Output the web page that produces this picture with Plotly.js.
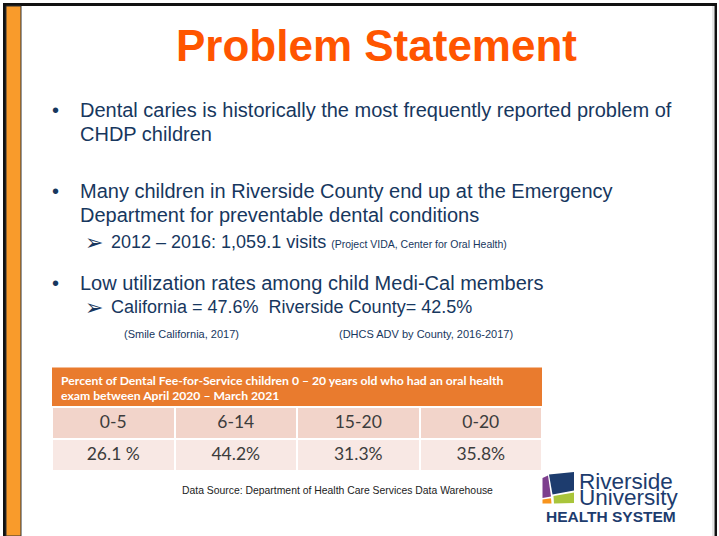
<!DOCTYPE html>
<html>
<head>
<meta charset="utf-8">
<script src="https://cdn.plot.ly/plotly-3.0.1.min.js"></script>
<style>html,body{margin:0;padding:0;background:#fff;}#chart{width:719px;height:536px;}</style>
</head>
<body>
<div id="chart"></div>
<script>
// ---- data ----
const ageGroups = ["0-5", "6-14", "15-20", "0-20"];
const examRates = ["26.1 %", "44.2%", "31.3%", "35.8%"];
const tableTitle = ["Percent of Dental Fee-for-Service children 0 \u2013 20 years old who had an oral health",
                    "exam between April 2020 \u2013 March 2021"];
const slideTitle = "Problem Statement";
const bullets = [
  ["Dental caries is historically the most frequently reported problem of", "CHDP children"],
  ["Many children in Riverside County end up at the Emergency", "Department for preventable dental conditions"],
  ["Low utilization rates among child Medi-Cal members"]
];
const subBullets = [
  ["2012 \u2013 2016: 1,059.1 visits", "(Project VIDA, Center for Oral Health)"],
  ["California = 47.6%\u00a0\u00a0Riverside County= 42.5%", ""]
];
const citations = ["(Smile California, 2017)", "(DHCS ADV by County, 2016-2017)"];
const dataSource = "Data Source: Department of Health Care Services Data Warehouse";
const logoText = ["Riverside", "University", "HEALTH SYSTEM"];

// ---- helpers (pixel -> paper) ----
const W = 719, H = 536;
const px = x => x / W;
const py = y => 1 - y / H;
const NAVY = "#17375E";
const ARIAL = "Liberation Sans, Arial, sans-serif";

function ann(text, x, y, size, o) {
  o = o || {};
  return {
    text: text, xref: "paper", yref: "paper", x: px(x), y: py(y),
    xanchor: o.xanchor || "left", yanchor: "middle", showarrow: false,
    align: o.align || "left", borderpad: 0,
    font: {family: o.family || ARIAL, size: size, color: o.color || NAVY, weight: o.weight || "normal"}
  };
}
function rect(x0, y0, x1, y1, fill, line) {
  return {type: "rect", xref: "paper", yref: "paper", x0: px(x0), x1: px(x1), y0: py(y1), y1: py(y0),
          fillcolor: fill, line: line || {width: 0}, layer: "below"};
}
function poly(pts, fill) {
  let d = pts.map((p, i) => (i ? "L" : "M") + px(p[0]) + "," + py(p[1])).join(" ") + " Z";
  return {type: "path", xref: "paper", yref: "paper", path: d, fillcolor: fill, line: {width: 0}, layer: "above"};
}

const annotations = [];
annotations.push(ann(slideTitle, 377, 45.8, 44, {xanchor: "center", color: "#FF5500", weight: "bold"}));

// bullets
const bulletLineY = [[109.8, 133.8], [191.4, 214.8], [283.1]];
bullets.forEach((lines, i) => {
  annotations.push(ann("\u2022", 55.5, bulletLineY[i][0], 20, {xanchor: "center"}));
  lines.forEach((t, j) => annotations.push(ann(t, 78.5, bulletLineY[i][j], 20)));
});
// sub bullets
const subY = [241.5, 307.1];
subBullets.forEach((s, i) => {
  annotations.push(ann("\u27A2", 94, subY[i] + 0.5, 22, {xanchor: "center", family: "DejaVu Sans"}));
  let t = s[0] + (s[1] ? ' <span style="font-size:10.5px">' + s[1] + '</span>' : "");
  annotations.push(ann(t, 110, subY[i], 18));
});
// citations
annotations.push(ann(citations[0], 122.7, 333.5, 11));
annotations.push(ann(citations[1], 337.7, 333.5, 11));

// table title (orange box)
annotations.push(ann(tableTitle[0], 60, 380.3, 12.2, {family: "Lato", color: "#ffffff", weight: "bold"}));
annotations.push(ann(tableTitle[1], 60, 395.2, 12.2, {family: "Lato", color: "#ffffff", weight: "bold"}));

// data source
annotations.push(ann(dataSource, 180.5, 490, 10.4, {color: "#222222"}));

// logo text
annotations.push(ann(logoText[0], 578, 481.5, 22.5, {color: "#1D3C6E"}));
annotations.push(ann(logoText[1], 578, 497.5, 22.5, {color: "#1D3C6E"}));
annotations.push(ann(logoText[2], 544.5, 516.3, 15.5, {color: "#1D3C6E", weight: "bold"}));

const shapes = [
  // slide frame
  rect(3, 3, 717, 6, "#111111"),
  rect(3, 3, 6, 536, "#111111"),
  rect(6, 6, 21, 536, "#F99B2B", {color: "#333333", width: 1}),
  rect(714.5, 3, 717, 536, "#111111"),
  rect(712.5, 6, 713.5, 536, "#cfcfcf"),
  // table title box
  rect(52, 367.5, 542, 406, "#E97B2E"),
  // logo graphic
  poly([[549, 474.5], [574, 472], [574, 490.5], [552.5, 494.5]], "#1D3C6E"),
  poly([[542.5, 478], [548, 475.5], [551, 496.5], [542.5, 498]], "#7D3F8E"),
  poly([[542.5, 499.5], [551, 498.3], [551.5, 503.5], [542.5, 503.5]], "#F7941D"),
  poly([[553.5, 496], [574, 492.5], [574, 503], [554, 503.5]], "#A9C53B")
];

const trace = {
  type: "table",
  domain: {x: [px(52), px(542)], y: [py(480), py(407)]},
  columnwidth: [1, 1, 1, 1],
  header: {
    values: ageGroups,
    align: "center",
    height: 32,
    fill: {color: "#F2D4CA"},
    line: {color: "#ffffff", width: 2},
    font: {family: "Lato", size: 17.5, color: "#3c3c3c"}
  },
  cells: {
    values: examRates.map(v => [v]),
    align: "center",
    height: 32,
    fill: {color: "#F8E8E4"},
    line: {color: "#ffffff", width: 2},
    font: {family: "Lato", size: 17.5, color: "#3c3c3c"}
  }
};

Plotly.newPlot("chart", [trace], {
  width: W, height: H,
  margin: {l: 0, r: 0, t: 0, b: 0},
  paper_bgcolor: "#ffffff",
  plot_bgcolor: "#ffffff",
  showlegend: false,
  shapes: shapes,
  annotations: annotations
}, {displayModeBar: false, staticPlot: true});
</script>
</body>
</html>
